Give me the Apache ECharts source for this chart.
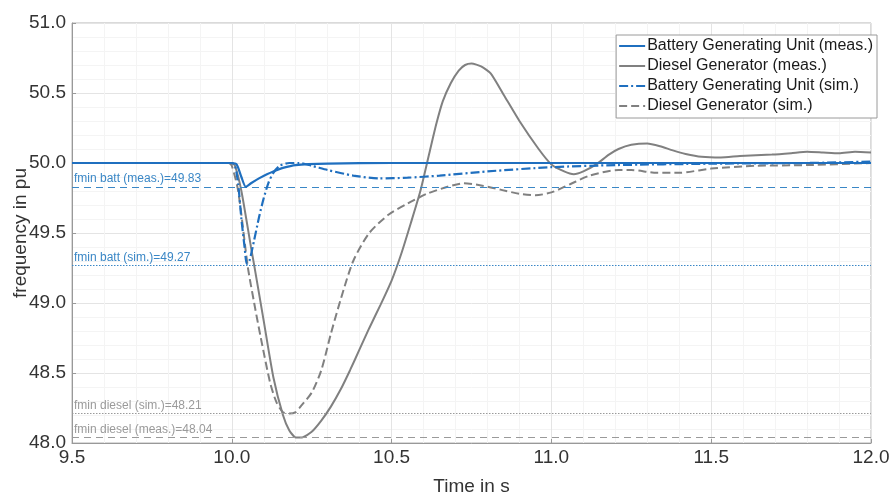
<!DOCTYPE html>
<html><head><meta charset="utf-8">
<script src="https://cdn.jsdelivr.net/npm/echarts@6/dist/echarts.min.js"></script>
<style>html,body{margin:0;padding:0;background:#fff}#c{width:889px;height:495px}</style>
</head><body><div id="c"></div>
<script>
// ---- data ----
const seriesNames = ['Battery Generating Unit (meas.)','Diesel Generator (meas.)','Battery Generating Unit (sim.)','Diesel Generator (sim.)'];
const xTicks = [9.5, 10.0, 10.5, 11.0, 11.5, 12.0];
const yTicks = [48.0, 48.5, 49.0, 49.5, 50.0, 50.5, 51.0];

const battMeasT = [9.5,9.8,10.0,10.015,10.03,10.044,10.06,10.085,10.11,10.13,10.16,10.2,10.3,10.5,11.0,11.5,12.0];
const battMeasF = [50.0,50.0,50.0,49.99,49.9,49.83,49.855,49.89,49.92,49.94,49.965,49.985,49.995,50.0,50.0,50.0,50.0];

const dieselMeasT = [9.5,9.8,10.0,10.01,10.03,10.06,10.07,10.1,10.13,10.16,10.18,10.2,10.22,10.25,10.28,10.31,10.34,10.37,10.40,10.43,10.466,10.5,10.53,10.56,10.59,10.62,10.64,10.66,10.685,10.71,10.73,10.75,10.78,10.81,10.85,10.9,10.96,11.0,11.04,11.07,11.1,11.14,11.18,11.21,11.25,11.3,11.34,11.38,11.42,11.47,11.53,11.59,11.69,11.75,11.8,11.85,11.9,11.95,12.0];
const dieselMeasF = [50.0,50.0,50.0,49.98,49.8,49.4,49.27,48.87,48.47,48.2,48.09,48.04,48.04,48.08,48.16,48.26,48.38,48.52,48.67,48.82,48.99,49.16,49.35,49.57,49.8,50.09,50.28,50.44,50.57,50.66,50.7,50.71,50.69,50.64,50.49,50.3,50.1,49.99,49.94,49.92,49.94,49.99,50.06,50.1,50.13,50.14,50.12,50.09,50.065,50.045,50.04,50.05,50.06,50.07,50.08,50.075,50.07,50.08,50.075];

const battSimT = [9.5,9.8,10.0,10.01,10.02,10.03,10.04,10.047,10.055,10.07,10.085,10.1,10.115,10.13,10.15,10.18,10.21,10.25,10.3,10.38,10.46,10.55,10.65,10.8,11.0,11.2,11.5,11.8,12.0];
const battSimF = [50.0,50.0,50.0,49.98,49.85,49.6,49.4,49.28,49.3,49.45,49.61,49.75,49.86,49.93,49.98,50.0,50.0,49.98,49.95,49.91,49.89,49.895,49.91,49.94,49.97,49.985,49.995,50.0,50.01];

const dieselSimT = [9.5,9.8,9.99,10.0,10.02,10.05,10.07,10.09,10.12,10.14,10.16,10.18,10.2,10.215,10.25,10.28,10.31,10.34,10.38,10.43,10.49,10.55,10.61,10.675,10.725,10.78,10.84,10.9,10.95,11.0,11.06,11.12,11.21,11.25,11.33,11.4,11.5,11.64,11.8,12.0];
const dieselSimF = [50.0,50.0,50.0,49.98,49.8,49.26,49.0,48.76,48.43,48.29,48.22,48.21,48.22,48.26,48.36,48.52,48.78,49.02,49.3,49.5,49.63,49.71,49.78,49.83,49.855,49.84,49.81,49.78,49.77,49.79,49.85,49.91,49.95,49.95,49.93,49.93,49.96,49.98,49.985,50.0];

const refValues = [49.83, 49.27, 48.21, 48.04];
const refLabels = ['fmin batt (meas.)=49.83','fmin batt (sim.)=49.27','fmin diesel (sim.)=48.21','fmin diesel (meas.)=48.04'];

// ---- build ----
const pairs = (t, f) => t.map((x, i) => [x, f[i]]);
const BLUE = '#1f6fbf', GRAY = '#808080', LBLUE = '#3a87c6', LGRAY = '#9a9a9a';
const FONT = '"Liberation Sans", Arial, sans-serif';

function refLine(v, label, color, type) {
  return {
    silent: true, symbol: 'none', animation: false,
    data: [{ yAxis: v }],
    lineStyle: { color: color, width: 1, type: type },
    label: { show: true, position: 'insideStartTop', formatter: label, color: color, fontSize: 12, fontFamily: FONT, distance: [2, 2] }
  };
}

const chart = echarts.init(document.getElementById('c'), null, { renderer: 'canvas' });
chart.setOption({
  animation: false,
  backgroundColor: '#fff',
  grid: { left: 72, right: 18, top: 23, bottom: 52, containLabel: false, outerBoundsMode: 'none', show: true, borderColor: '#b5b5b5', borderWidth: 1 },
  legend: {
    orient: 'vertical', right: 12, top: 35,
    data: seriesNames,
    backgroundColor: '#fff', borderColor: '#9a9a9a', borderWidth: 1,
    padding: [3, 4, 4, 2], itemGap: 4, itemWidth: 26, itemHeight: 16,
    itemStyle: { opacity: 0, color: 'transparent', borderWidth: 0 },
    textStyle: { fontSize: 16, color: '#1a1a1a', fontFamily: FONT, padding: [0, 0, 0, -3] }
  },
  xAxis: {
    type: 'value', min: 9.5, max: 12.0, interval: 0.5,
    name: 'Time in s', nameLocation: 'middle', nameGap: 34, nameMoveOverlap: false,
    nameTextStyle: { fontSize: 19, color: '#333', fontFamily: FONT },
    axisLine: { lineStyle: { color: '#999' } },
    axisTick: { show: true, inside: true, length: 4, lineStyle: { color: '#999' } },
    axisLabel: { fontSize: 19, color: '#333', fontFamily: FONT, margin: 5, formatter: v => v.toFixed(1) },
    splitLine: { show: true, lineStyle: { color: '#e4e4e4', width: 1 } },
    minorTick: { show: false, splitNumber: 5 },
    minorSplitLine: { show: true, lineStyle: { color: '#f4f4f4', width: 1 } }
  },
  yAxis: {
    type: 'value', min: 48.0, max: 51.0, interval: 0.5,
    name: 'frequency in pu', nameLocation: 'middle', nameGap: 42, nameMoveOverlap: false,
    nameTextStyle: { fontSize: 19, color: '#333', fontFamily: FONT },
    axisLine: { show: true, lineStyle: { color: '#999' } },
    axisTick: { show: true, inside: true, length: 4, lineStyle: { color: '#999' } },
    axisLabel: { fontSize: 19, color: '#333', fontFamily: FONT, margin: 6, formatter: v => v.toFixed(1) },
    splitLine: { show: true, lineStyle: { color: '#e4e4e4', width: 1 } },
    minorTick: { show: false, splitNumber: 5 },
    minorSplitLine: { show: true, lineStyle: { color: '#f4f4f4', width: 1 } }
  },
  series: [
    { name: seriesNames[0], type: 'line', data: pairs(battMeasT, battMeasF), showSymbol: false, symbol: 'none', smooth: 0.25, z: 5,
      lineStyle: { color: BLUE, width: 2.2, type: 'solid' }, itemStyle: { color: BLUE },
      markLine: refLine(refValues[0], refLabels[0], LBLUE, [7, 5]) },
    { name: seriesNames[1], type: 'line', data: pairs(dieselMeasT, dieselMeasF), showSymbol: false, symbol: 'none', smooth: 0.2, z: 4,
      lineStyle: { color: GRAY, width: 2, type: 'solid' }, itemStyle: { color: GRAY },
      markLine: refLine(refValues[3], refLabels[3], LGRAY, [7, 5]) },
    { name: seriesNames[2], type: 'line', data: pairs(battSimT, battSimF), showSymbol: false, symbol: 'none', smooth: 0.25, z: 6,
      lineStyle: { color: BLUE, width: 2.2, type: [9, 3, 2, 3] }, itemStyle: { color: BLUE },
      markLine: refLine(refValues[1], refLabels[1], LBLUE, [1.5, 1.5]) },
    { name: seriesNames[3], type: 'line', data: pairs(dieselSimT, dieselSimF), showSymbol: false, symbol: 'none', smooth: 0.25, z: 3,
      lineStyle: { color: GRAY, width: 2, type: [8, 4] }, itemStyle: { color: GRAY },
      markLine: refLine(refValues[2], refLabels[2], LGRAY, [1.5, 1.5]) }
  ]
});
</script>
</body></html>
